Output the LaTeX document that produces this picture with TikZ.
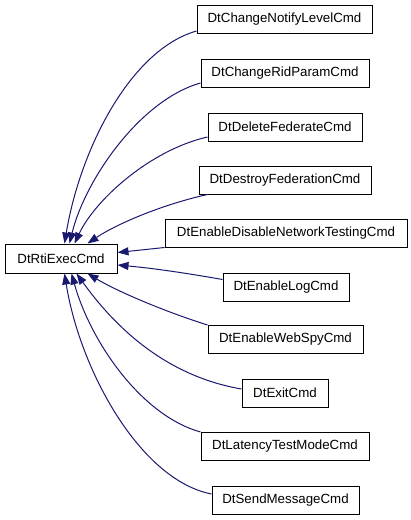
\documentclass[tikz,border=0pt]{standalone}
\usepackage{fontspec}
\setmainfont{Liberation Sans}
\usetikzlibrary{arrows.meta,calc}
\definecolor{edgeblue}{RGB}{25,25,112}
\tikzset{
  cls/.style={draw=black,line width=1pt,fill=white,minimum height=28pt,inner sep=0pt,
    font=\fontsize{13.3}{16}\selectfont},
  inh/.style={draw=edgeblue,line width=1pt,-{Triangle[length=11pt,width=8pt,fill=edgeblue]}}
}
\begin{document}
\begin{tikzpicture}[x=1pt,y=-1pt]
\useasboundingbox (0,0) rectangle (411,520);
\node[cls,minimum width=112pt,minimum height=29pt] (main) at (61,258.5) {DtRtiExecCmd};
\node[cls,minimum width=175pt] (b1) at (284.5,19) {DtChangeNotifyLevelCmd};
\node[cls,minimum width=168pt] (b2) at (285,73) {DtChangeRidParamCmd};
\node[cls,minimum width=154pt] (b3) at (285,127) {DtDeleteFederateCmd};
\node[cls,minimum width=172pt] (b4) at (285,180) {DtDestroyFederationCmd};
\node[cls,minimum width=242pt] (b5) at (286,233) {DtEnableDisableNetworkTestingCmd};
\node[cls,minimum width=126pt] (b6) at (286,287.5) {DtEnableLogCmd};
\node[cls,minimum width=155pt] (b7) at (285.5,339.5) {DtEnableWebSpyCmd};
\node[cls,minimum width=86pt] (b8) at (285,393) {DtExitCmd};
\node[cls,minimum width=168pt] (b9) at (285,446.5) {DtLatencyTestModeCmd};
\node[cls,minimum width=147pt] (b10) at (285.5,500) {DtSendMessageCmd};

\draw[inh] ($(b1.west)+(0,12)$) .. controls (130,50) and (80,150) .. ($(main.north west)+(60,0)$);
\draw[inh] ($(b2.west)+(0,10)$) .. controls (140,100) and (85,180) .. ($(main.north west)+(65,0)$);
\draw[inh] ($(b3.west)+(0,10)$) .. controls (150,150) and (95,200) .. ($(main.north west)+(70,0)$);
\draw[inh] ($(b4.south west)+(9,0)$) .. controls (160,205) and (115,225) .. ($(main.north west)+(83,0)$);
\draw[inh] (b5.south west) -- ($(main.east)+(0,-6)$);
\draw[inh] ($(b6.west)+(0,-8)$) .. controls (180,272) and (150,268) .. ($(main.east)+(0,6.5)$);
\draw[inh] (b7.north west) .. controls (160,310) and (115,290) .. ($(main.south west)+(83,0)$);
\draw[inh] ($(b8.west)+(0,-4)$) .. controls (160,375) and (110,320) .. ($(main.south west)+(72,0)$);
\draw[inh] (b9.north west) .. controls (140,415) and (90,340) .. ($(main.south west)+(67,0)$);
\draw[inh] ($(b10.west)+(0,-6)$) .. controls (140,480) and (80,370) .. ($(main.south west)+(60,0)$);
\end{tikzpicture}
\end{document}
